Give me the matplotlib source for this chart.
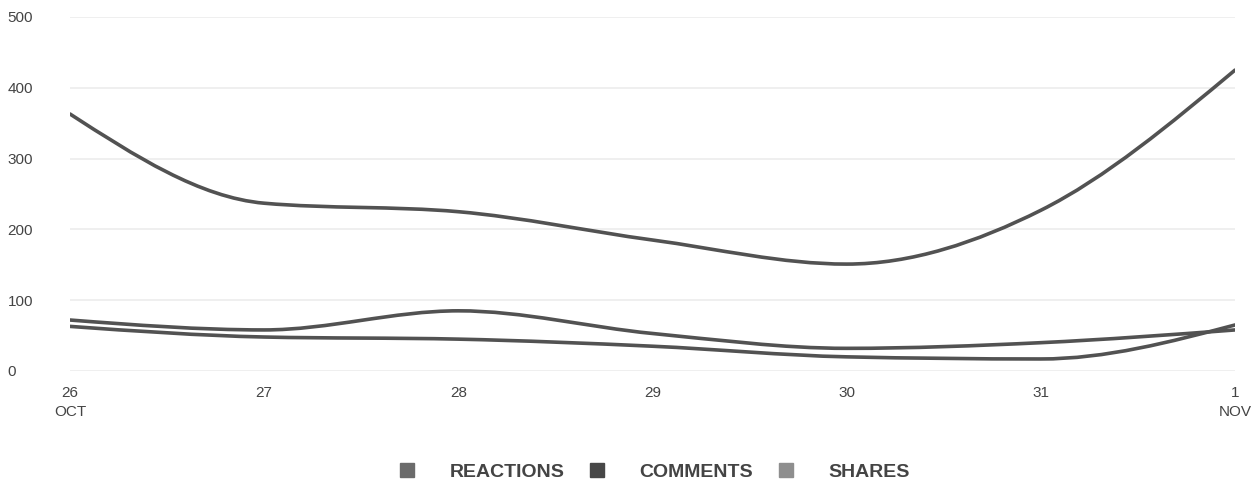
import numpy as np
import matplotlib.pyplot as plt
from matplotlib.path import Path
from matplotlib.patches import PathPatch
from matplotlib.lines import Line2D

plt.rcParams['font.family'] = ['Liberation Sans', 'DejaVu Sans']

days = ['26\nOCT', '27', '28', '29', '30', '31', '1\nNOV']
y_ticks = [0, 100, 200, 300, 400, 500]
reactions = [363, 237, 225, 185, 151, 227, 425]
comments = [72, 58, 85, 53, 32, 40, 58]
shares = [63, 48, 45, 35, 20, 17, 65]

series_names = ['REACTIONS', 'COMMENTS', 'SHARES']
legend_colors = ['#6b6b6b', '#474747', '#8e8e8e']
line_color = '#525252'


def monotone_path(x, y):
    # cubic bezier path like d3.curveMonotoneX
    x = np.asarray(x, float)
    y = np.asarray(y, float)
    n = len(x)
    h = np.diff(x)
    s = np.diff(y) / h
    t = np.zeros(n)
    for i in range(1, n - 1):
        p = (s[i-1] * h[i] + s[i] * h[i-1]) / (h[i-1] + h[i])
        t[i] = (np.sign(s[i-1]) + np.sign(s[i])) * min(abs(s[i-1]), abs(s[i]), 0.5 * abs(p))
    t[0] = (3 * s[0] - t[1]) / 2
    t[-1] = (3 * s[-1] - t[-2]) / 2
    verts = [(x[0], y[0])]
    codes = [Path.MOVETO]
    for i in range(n - 1):
        dx = h[i] / 3
        verts += [(x[i] + dx, y[i] + dx * t[i]),
                  (x[i+1] - dx, y[i+1] - dx * t[i+1]),
                  (x[i+1], y[i+1])]
        codes += [Path.CURVE4] * 3
    return Path(verts, codes)


fig = plt.figure(figsize=(12.6, 4.87), dpi=100)
ax = fig.add_axes([70/1260, 1 - 371/487, 1165/1260, 354/487])

xs = np.arange(len(days))
for vals in [reactions, comments, shares]:
    ax.add_patch(PathPatch(monotone_path(xs, vals), facecolor='none',
                           edgecolor=line_color, lw=2.6, capstyle='round', zorder=3))

ax.set_xlim(0, len(days) - 1)
ax.set_ylim(0, 500)
ax.set_yticks(y_ticks)
ax.set_yticklabels([str(v) for v in y_ticks], ha='left', fontsize=11, color='#444444')
ax.set_xticks(xs)
ax.set_xticklabels(days, fontsize=11, color='#444444', linespacing=1.45)
ax.grid(axis='y', color='#ececec', lw=1.2)
ax.grid(axis='x', visible=False)
for sp in ax.spines.values():
    sp.set_visible(False)
ax.tick_params(axis='x', length=0, pad=11)
ax.tick_params(axis='y', length=0, pad=45)

handles = [Line2D([], [], marker='s', linestyle='none', markersize=9.5,
                  markerfacecolor=c, markeredgecolor=c) for c in legend_colors]
leg = fig.legend(handles, series_names, loc='center', bbox_to_anchor=(0.5185, 0.031),
                 ncol=3, frameon=False, handlelength=1.0, handletextpad=1.7,
                 columnspacing=1.17, prop={'size': 14, 'weight': 'bold'})
for txt in leg.get_texts():
    txt.set_color('#444444')

fig.savefig('out.png', dpi=100, facecolor='white')
